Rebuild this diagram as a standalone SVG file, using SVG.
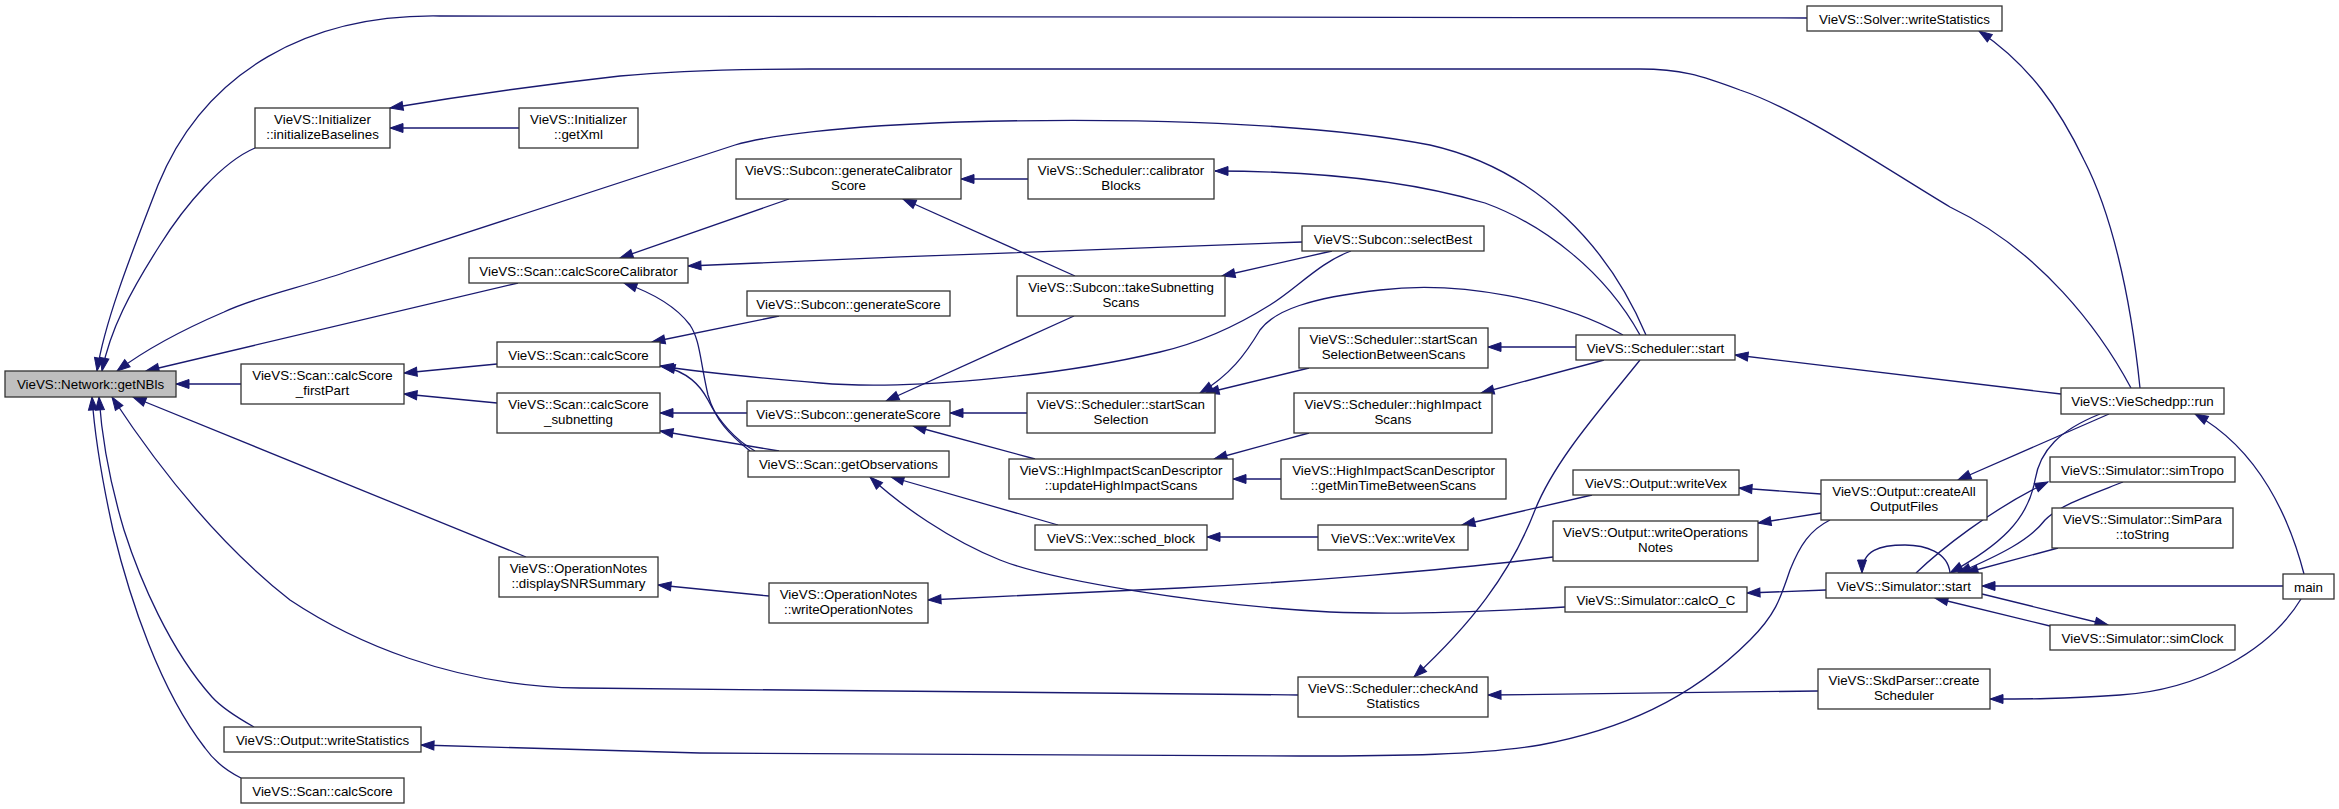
<svg xmlns="http://www.w3.org/2000/svg" width="2339" height="809" viewBox="0 0 2339 809">
<defs>
<style>
.n rect{fill:#fff;stroke:#333;stroke-width:1.3}
.n text{font-family:"Liberation Sans",Arial,sans-serif;font-size:13.33px;fill:#000;text-anchor:middle}
#getNBls rect{fill:#bfbfbf}
.e path{fill:none;stroke:#191970;stroke-width:1.3;marker-end:url(#a)}
</style>
<marker id="a" markerUnits="userSpaceOnUse" markerWidth="13" markerHeight="9" refX="13" refY="4.5" orient="auto" viewBox="0 0 13 9" overflow="visible"><path d="M0,0 L13,4.5 L0,9 z" fill="#191970" stroke="#191970" stroke-width="1"/></marker>
</defs>
<rect width="2339" height="809" fill="#fff"/>
<g class="e">
<path d="M1807,18 L440,16 C310,14 205,70 158,185 C128,262 104,325 97,371"/>
<path d="M255,148 C222,162 185,205 160,245 C130,292 110,330 102,371"/>
<path d="M1646,335 C1610,250 1540,170 1430,145 C1300,120 1100,118 960,122 C840,126 765,136 735,145 L346,272 C300,288 258,296 224,312 C182,330 145,350 117,371"/>
<path d="M1640,335 C1605,272 1545,225 1485,203 C1400,178 1300,171 1215,171"/>
<path d="M518,283 L146,371"/>
<path d="M241,384 L176,384"/>
<path d="M497,364 L404,373"/>
<path d="M497,403 L404,394"/>
<path d="M526,557 L133,397"/>
<path d="M1298,695 C1000,692 700,690 580,688 C450,686 350,640 290,600 C220,545 160,470 112,397"/>
<path d="M254,727 C238,718 222,708 212,697 C170,650 140,580 124,530 C112,490 102,440 99,397"/>
<path d="M241,778 C225,770 212,758 205,748 C160,690 130,600 113,530 C102,480 95,440 92,397"/>
<path d="M519,128 L390,128"/>
<path d="M2131,388 C2100,330 2040,250 1950,207 C1880,165 1800,110 1740,90 C1700,75 1680,69 1640,69 L810,69 C720,69 660,72 620,76 C540,85 450,98 390,108"/>
<path d="M2140,388 C2130,290 2110,210 2084,160 C2060,110 2030,65 1979,31"/>
<path d="M789,199 L620,258"/>
<path d="M1028,179 L961,179"/>
<path d="M1075,276 L903,199"/>
<path d="M1302,242 C1200,246 900,256 688,266"/>
<path d="M1332,251 L1222,276"/>
<path d="M1351,251 C1320,262 1295,290 1270,305 C1230,330 1190,345 1160,352 C1050,378 900,390 820,383 C760,378 700,372 660,366"/>
<path d="M779,316 L652,342"/>
<path d="M779,451 L660,431"/>
<path d="M750,451 C730,435 715,420 708,395 C700,360 700,340 690,325 C675,305 650,292 624,283"/>
<path d="M755,451 C735,440 718,420 708,400 C700,385 688,372 662,366"/>
<path d="M747,413 L660,413"/>
<path d="M1027,413 L950,413"/>
<path d="M1074,316 L886,401"/>
<path d="M1035,459 L913,426"/>
<path d="M1058,525 L891,477"/>
<path d="M1565,607 C1480,612 1400,615 1330,612 C1200,605 1050,580 1000,560 C950,540 900,505 870,477"/>
<path d="M1309,368 L1206,393"/>
<path d="M1623,335 C1560,300 1460,280 1380,290 C1310,298 1275,310 1260,330 C1245,355 1230,375 1200,393"/>
<path d="M1576,347 L1488,347"/>
<path d="M1604,360 L1481,393"/>
<path d="M1640,360 C1600,410 1555,460 1535,510 C1510,575 1470,625 1414,677"/>
<path d="M1309,433 L1214,459"/>
<path d="M1281,479 L1233,479"/>
<path d="M1318,537 L1207,537"/>
<path d="M1592,495 L1462,525"/>
<path d="M1821,494 L1739,488"/>
<path d="M1821,513 L1758,523"/>
<path d="M1553,557 C1450,570 1300,582 1180,588 C1100,592 1000,596 928,600"/>
<path d="M769,596 L658,585"/>
<path d="M1818,691 L1488,695"/>
<path d="M1830,520 C1810,530 1800,545 1790,570 C1780,600 1775,615 1750,640 C1690,700 1620,730 1540,745 C1480,755 1400,756 1300,756 L700,753 C600,751 500,748 421,745"/>
<path d="M1826,590 L1747,593"/>
<path d="M1916,573 C1940,550 1990,510 2048,482"/>
<path d="M2100,414 C2060,430 2040,450 2035,480 C2028,520 2000,545 1950,573"/>
<path d="M2123,482 C2090,495 2060,505 2045,520 C2030,540 2000,555 1958,573"/>
<path d="M2058,548 L1965,573"/>
<path d="M1950,573 C1948,552 1925,545 1905,545 C1880,545 1862,550 1862,573"/>
<path d="M2283,586 L1982,586"/>
<path d="M1982,594 L2108,625"/>
<path d="M2050,626 L1935,598"/>
<path d="M2304,574 C2290,520 2260,450 2195,414"/>
<path d="M2301,599 C2270,650 2200,690 2120,695 C2060,699 2030,699 1990,699"/>
<path d="M2109,414 L1958,480"/>
<path d="M2061,394 L1735,355"/>
</g>
<g class="n" id="getNBls"><rect x="5" y="371" width="171" height="26"/><text x="90.5" y="388.5">VieVS::Network::getNBls</text></g>
<g class="n" id="initBase"><rect x="255" y="108" width="135" height="40"/><text x="322.5" y="124">VieVS::Initializer</text><text x="322.5" y="139">::initializeBaselines</text></g>
<g class="n" id="getXml"><rect x="519" y="108" width="119" height="40"/><text x="578.5" y="124">VieVS::Initializer</text><text x="578.5" y="139">::getXml</text></g>
<g class="n" id="firstPart"><rect x="241" y="364" width="163" height="40"/><text x="322.5" y="380">VieVS::Scan::calcScore</text><text x="322.5" y="395">_firstPart</text></g>
<g class="n" id="calibScan"><rect x="469" y="258" width="219" height="25"/><text x="578.5" y="275.5">VieVS::Scan::calcScoreCalibrator</text></g>
<g class="n" id="calcScoreU"><rect x="497" y="342" width="163" height="25"/><text x="578.5" y="359.5">VieVS::Scan::calcScore</text></g>
<g class="n" id="subnetting"><rect x="497" y="393" width="163" height="40"/><text x="578.5" y="409">VieVS::Scan::calcScore</text><text x="578.5" y="424">_subnetting</text></g>
<g class="n" id="dispSNR"><rect x="499" y="557" width="159" height="40"/><text x="578.5" y="573">VieVS::OperationNotes</text><text x="578.5" y="588">::displaySNRSummary</text></g>
<g class="n" id="outWriteStat"><rect x="224" y="727" width="197" height="25"/><text x="322.5" y="744.5">VieVS::Output::writeStatistics</text></g>
<g class="n" id="calcScoreB"><rect x="241" y="778" width="163" height="25"/><text x="322.5" y="795.5">VieVS::Scan::calcScore</text></g>
<g class="n" id="genCalibScore"><rect x="736" y="159" width="225" height="40"/><text x="848.5" y="175">VieVS::Subcon::generateCalibrator</text><text x="848.5" y="190">Score</text></g>
<g class="n" id="calibBlocks"><rect x="1028" y="159" width="186" height="40"/><text x="1121" y="175">VieVS::Scheduler::calibrator</text><text x="1121" y="190">Blocks</text></g>
<g class="n" id="genScoreT"><rect x="747" y="291" width="203" height="25"/><text x="848.5" y="308.5">VieVS::Subcon::generateScore</text></g>
<g class="n" id="genScoreM"><rect x="747" y="401" width="203" height="25"/><text x="848.5" y="418.5">VieVS::Subcon::generateScore</text></g>
<g class="n" id="getObs"><rect x="748" y="451" width="201" height="26"/><text x="848.5" y="468.5">VieVS::Scan::getObservations</text></g>
<g class="n" id="takeSub"><rect x="1017" y="276" width="208" height="40"/><text x="1121" y="292">VieVS::Subcon::takeSubnetting</text><text x="1121" y="307">Scans</text></g>
<g class="n" id="startScanSel"><rect x="1027" y="393" width="188" height="40"/><text x="1121" y="409">VieVS::Scheduler::startScan</text><text x="1121" y="424">Selection</text></g>
<g class="n" id="updateHigh"><rect x="1009" y="459" width="224" height="40"/><text x="1121" y="475">VieVS::HighImpactScanDescriptor</text><text x="1121" y="490">::updateHighImpactScans</text></g>
<g class="n" id="schedBlock"><rect x="1035" y="525" width="172" height="25"/><text x="1121" y="542.5">VieVS::Vex::sched_block</text></g>
<g class="n" id="writeOpNotes"><rect x="769" y="583" width="159" height="40"/><text x="848.5" y="599">VieVS::OperationNotes</text><text x="848.5" y="614">::writeOperationNotes</text></g>
<g class="n" id="selectBest"><rect x="1302" y="226" width="182" height="25"/><text x="1393" y="243.5">VieVS::Subcon::selectBest</text></g>
<g class="n" id="startBetween"><rect x="1299" y="328" width="189" height="40"/><text x="1393.5" y="344">VieVS::Scheduler::startScan</text><text x="1393.5" y="359">SelectionBetweenScans</text></g>
<g class="n" id="schedStart"><rect x="1576" y="335" width="159" height="25"/><text x="1655.5" y="352.5">VieVS::Scheduler::start</text></g>
<g class="n" id="highImpact"><rect x="1294" y="393" width="198" height="40"/><text x="1393" y="409">VieVS::Scheduler::highImpact</text><text x="1393" y="424">Scans</text></g>
<g class="n" id="getMinTime"><rect x="1281" y="459" width="225" height="40"/><text x="1393.5" y="475">VieVS::HighImpactScanDescriptor</text><text x="1393.5" y="490">::getMinTimeBetweenScans</text></g>
<g class="n" id="outWriteVex"><rect x="1573" y="470" width="166" height="25"/><text x="1656" y="487.5">VieVS::Output::writeVex</text></g>
<g class="n" id="vexWriteVex"><rect x="1318" y="525" width="150" height="25"/><text x="1393" y="542.5">VieVS::Vex::writeVex</text></g>
<g class="n" id="writeOpsNotes"><rect x="1553" y="521" width="205" height="40"/><text x="1655.5" y="537">VieVS::Output::writeOperations</text><text x="1655.5" y="552">Notes</text></g>
<g class="n" id="calcOC"><rect x="1565" y="587" width="182" height="25"/><text x="1656" y="604.5">VieVS::Simulator::calcO_C</text></g>
<g class="n" id="checkAndStat"><rect x="1298" y="677" width="190" height="40"/><text x="1393" y="693">VieVS::Scheduler::checkAnd</text><text x="1393" y="708">Statistics</text></g>
<g class="n" id="solverWS"><rect x="1807" y="6" width="195" height="25"/><text x="1904.5" y="23.5">VieVS::Solver::writeStatistics</text></g>
<g class="n" id="run"><rect x="2061" y="388" width="163" height="26"/><text x="2142.5" y="405.5">VieVS::VieSchedpp::run</text></g>
<g class="n" id="createAll"><rect x="1821" y="480" width="166" height="40"/><text x="1904" y="496">VieVS::Output::createAll</text><text x="1904" y="511">OutputFiles</text></g>
<g class="n" id="simTropo"><rect x="2050" y="457" width="185" height="25"/><text x="2142.5" y="474.5">VieVS::Simulator::simTropo</text></g>
<g class="n" id="toString"><rect x="2052" y="508" width="181" height="40"/><text x="2142.5" y="524">VieVS::Simulator::SimPara</text><text x="2142.5" y="539">::toString</text></g>
<g class="n" id="simStart"><rect x="1826" y="573" width="156" height="25"/><text x="1904" y="590.5">VieVS::Simulator::start</text></g>
<g class="n" id="main"><rect x="2283" y="574" width="51" height="25"/><text x="2308.5" y="591.5">main</text></g>
<g class="n" id="simClock"><rect x="2050" y="625" width="185" height="25"/><text x="2142.5" y="642.5">VieVS::Simulator::simClock</text></g>
<g class="n" id="createSched"><rect x="1818" y="669" width="172" height="40"/><text x="1904" y="685">VieVS::SkdParser::create</text><text x="1904" y="700">Scheduler</text></g>
</svg>
